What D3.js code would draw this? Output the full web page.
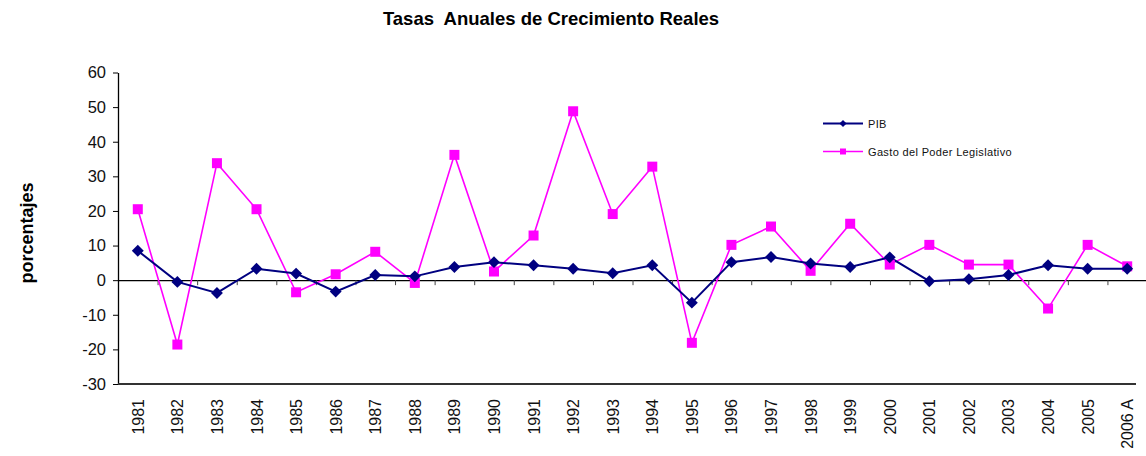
<!DOCTYPE html>
<html>
<head>
<meta charset="utf-8">
<script src="https://cdn.jsdelivr.net/npm/d3@7"></script>
<style>
  body { margin: 0; background: #fff; }
  svg { display: block; font-family: "Liberation Sans", Arial, sans-serif; }
</style>
</head>
<body>
<svg id="chart" width="1146" height="456"></svg>
<script>
// categories and series
var years = ["1981","1982","1983","1984","1985","1986","1987","1988","1989","1990",
             "1991","1992","1993","1994","1995","1996","1997","1998","1999","2000",
             "2001","2002","2003","2004","2005","2006 A"];
var pib = [8.5,-0.5,-3.7,3.3,1.9,-3.3,1.5,1.1,3.8,5.2,
           4.3,3.3,2.0,4.3,-6.5,5.2,6.7,4.8,3.8,6.6,
           -0.3,0.3,1.5,4.3,3.3,3.3];
var gasto = [20.5,-18.6,33.8,20.5,-3.5,1.7,8.2,-0.8,36.2,2.5,
             12.9,48.8,19.1,32.8,-18.1,10.2,15.5,2.7,16.3,4.5,
             10.2,4.5,4.5,-8.2,10.2,4.0];
var yTicks = [-30,-20,-10,0,10,20,30,40,50,60];
var seriesNames = ["PIB", "Gasto del Poder Legislativo"];

var svg = d3.select("#chart");

var plotLeft = 118, plotRight = 1147, plotTop = 72.5, plotBottom = 384;

var x = d3.scaleBand().domain(years).range([plotLeft, plotRight]).paddingInner(0).paddingOuter(0);
var y = d3.scaleLinear().domain([-30, 60]).range([plotBottom, plotTop]);
var cx = function(d, i) { return x(years[i]) + x.bandwidth() / 2; };

// title
svg.append("text")
	.attr("x", 551)
	.attr("y", 25)
	.attr("text-anchor", "middle")
	.attr("font-size", 18.5)
	.attr("font-weight", "bold")
	.attr("fill", "#000")
	.style("white-space", "pre")
	.text("Tasas  Anuales de Crecimiento Reales");

// y label
svg.append("text")
	.attr("transform", "translate(33,233) rotate(-90)")
	.attr("text-anchor", "middle")
	.attr("font-size", 18)
	.attr("font-weight", "bold")
	.text("porcentajes");

// y axis
var yAxis = svg.append("g")
	.attr("transform", "translate(" + plotLeft + ",0)")
	.call(d3.axisLeft(y).tickValues(yTicks).tickSize(5).tickSizeOuter(0).tickPadding(7)
		.tickFormat(function(d) { return String(d); }));
yAxis.select(".domain").attr("stroke", "#000").attr("stroke-width", 1.3);
yAxis.selectAll(".tick line").attr("stroke", "#000");
yAxis.selectAll(".tick text")
	.attr("font-size", 16.5)
	.attr("fill", "#111")
	.attr("font-family", "Liberation Sans, Arial, sans-serif");

// bottom border line
svg.append("line")
	.attr("x1", plotLeft).attr("x2", 1136)
	.attr("y1", plotBottom).attr("y2", plotBottom)
	.attr("stroke", "#333").attr("stroke-width", 2);

// zero line with category tick marks
var idx = d3.scaleLinear().domain([0, years.length]).range([plotLeft, plotRight]);
var zeroAxis = svg.append("g")
	.attr("transform", "translate(0," + y(0) + ")")
	.call(d3.axisBottom(idx).tickValues(d3.range(1, years.length + 1)).tickSize(5).tickSizeOuter(0).tickFormat(""));
zeroAxis.select(".domain").attr("stroke", "#000").attr("stroke-width", 1.3);
zeroAxis.selectAll(".tick line").attr("stroke", "#444");

// x labels
svg.append("g").selectAll("text")
	.data(years)
	.enter().append("text")
		.attr("transform", function(d, i) { return "translate(" + (cx(d, i) + 6) + ",399) rotate(-90)"; })
		.attr("text-anchor", "end")
		.attr("font-size", 16)
		.attr("fill", "#111")
		.text(function(d) { return d; });

var line = d3.line()
	.x(function(d, i) { return cx(d, i); })
	.y(function(d) { return y(d); });

// gasto series
svg.append("path")
	.datum(gasto)
	.attr("fill", "none")
	.attr("stroke", "#ff00ff")
	.attr("stroke-width", 1.6)
	.attr("d", line);

// pib series
svg.append("path")
	.datum(pib)
	.attr("fill", "none")
	.attr("stroke", "#000080")
	.attr("stroke-width", 2)
	.attr("d", line);

var diamond = d3.symbol().type(d3.symbolDiamond2).size(90);
var square = d3.symbol().type(d3.symbolSquare).size(100);

svg.append("g").selectAll("path")
	.data(gasto)
	.enter().append("path")
		.attr("transform", function(d, i) { return "translate(" + cx(d, i) + "," + y(d) + ")"; })
		.attr("d", square)
		.attr("fill", "#ff00ff");

svg.append("g").selectAll("path")
	.data(pib)
	.enter().append("path")
		.attr("transform", function(d, i) { return "translate(" + cx(d, i) + "," + y(d) + ")"; })
		.attr("d", diamond)
		.attr("fill", "#000080");

// legend
var legend = svg.append("g");
var legendItems = [
	{ name: seriesNames[0], color: "#000080", sym: diamond, w: 2, y: 123.5 },
	{ name: seriesNames[1], color: "#ff00ff", sym: square, w: 1.6, y: 151.5 }
];
legendItems.forEach(function(it) {
	legend.append("line")
		.attr("x1", 823).attr("x2", 863)
		.attr("y1", it.y).attr("y2", it.y)
		.attr("stroke", it.color).attr("stroke-width", it.w);
	legend.append("path")
		.attr("transform", "translate(843," + it.y + ") scale(0.6)")
		.attr("d", it.sym)
		.attr("fill", it.color);
	legend.append("text")
		.attr("x", 868)
		.attr("y", it.y + 4)
		.attr("font-size", 11)
		.attr("letter-spacing", 0.35)
		.attr("fill", "#111")
		.text(it.name);
});
</script>
</body>
</html>
